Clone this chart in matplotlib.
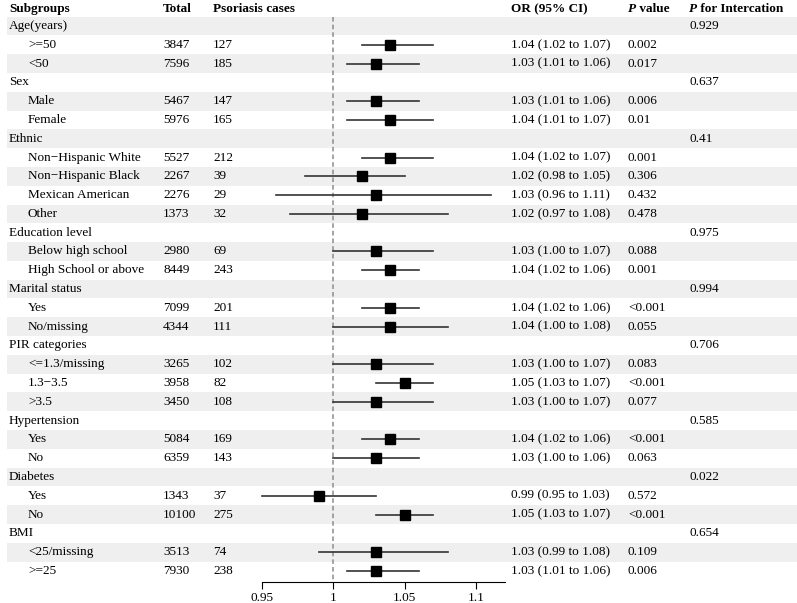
import matplotlib.pyplot as plt
import matplotlib.transforms as mtransforms
import numpy as np

plt.rcParams['font.family'] = ['Liberation Serif', 'DejaVu Serif']

# %% data
subgroups = ["Age(years)", ">=50", "<50",
             "Sex", "Male", "Female",
             "Ethnic", "Non\u2212Hispanic White", "Non\u2212Hispanic Black", "Mexican American", "Other",
             "Education level", "Below high school", "High School or above",
             "Marital status", "Yes", "No/missing",
             "PIR categories", "<=1.3/missing", "1.3\u22123.5", ">3.5",
             "Hypertension", "Yes", "No",
             "Diabetes", "Yes", "No",
             "BMI", "<25/missing", ">=25"]
totals = ["", "3847", "7596",
          "", "5467", "5976",
          "", "5527", "2267", "2276", "1373",
          "", "2980", "8449",
          "", "7099", "4344",
          "", "3265", "3958", "3450",
          "", "5084", "6359",
          "", "1343", "10100",
          "", "3513", "7930"]
cases = ["", "127", "185",
         "", "147", "165",
         "", "212", "39", "29", "32",
         "", "69", "243",
         "", "201", "111",
         "", "102", "82", "108",
         "", "169", "143",
         "", "37", "275",
         "", "74", "238"]
nan = np.nan
odds = [nan, 1.04, 1.03,
        nan, 1.03, 1.04,
        nan, 1.04, 1.02, 1.03, 1.02,
        nan, 1.03, 1.04,
        nan, 1.04, 1.04,
        nan, 1.03, 1.05, 1.03,
        nan, 1.04, 1.03,
        nan, 0.99, 1.05,
        nan, 1.03, 1.03]
ci_low = [nan, 1.02, 1.01,
          nan, 1.01, 1.01,
          nan, 1.02, 0.98, 0.96, 0.97,
          nan, 1.00, 1.02,
          nan, 1.02, 1.00,
          nan, 1.00, 1.03, 1.00,
          nan, 1.02, 1.00,
          nan, 0.95, 1.03,
          nan, 0.99, 1.01]
ci_high = [nan, 1.07, 1.06,
           nan, 1.06, 1.07,
           nan, 1.07, 1.05, 1.11, 1.08,
           nan, 1.07, 1.06,
           nan, 1.06, 1.08,
           nan, 1.07, 1.07, 1.07,
           nan, 1.06, 1.06,
           nan, 1.03, 1.07,
           nan, 1.08, 1.06]
p_values = ["", "0.002", "0.017",
            "", "0.006", "0.01",
            "", "0.001", "0.306", "0.432", "0.478",
            "", "0.088", "0.001",
            "", "<0.001", "0.055",
            "", "0.083", "<0.001", "0.077",
            "", "<0.001", "0.063",
            "", "0.572", "<0.001",
            "", "0.109", "0.006"]
p_interaction = ["0.929", "", "",
                 "0.637", "", "",
                 "0.41", "", "", "", "",
                 "0.975", "", "",
                 "0.994", "", "",
                 "0.706", "", "", "",
                 "0.585", "", "",
                 "0.022", "", "",
                 "0.654", "", ""]
ticks = [0.95, 1, 1.05, 1.1]
tick_labels = ["0.95", "1", "1.05", "1.1"]

# %% layout
W, H = 797, 603
fig = plt.figure(figsize=(W / 100, H / 100), dpi=100)
ax = fig.add_axes([0, 21 / H, 1, 582 / H])

n = len(subgroups)
row_px = 18.79
y_bottom = (582 - 26) / row_px
y_top = -26 / row_px
ax.set_ylim(y_bottom, y_top)
px_unit = 1430.0
ax.set_xlim(0.95 - 261.7 / px_unit, 0.95 + (W - 261.7) / px_unit)

tr = mtransforms.blended_transform_factory(ax.transAxes, ax.transData)
fs = 9.5
col = {"sub": 9, "item": 28, "total": 163, "cases": 213, "or": 511, "p": 628, "pint": 689}
cx = {k: v / W for k, v in col.items()}

# stripes
for i in range(n):
    if i % 2 == 0:
        ax.axhspan(i - 0.5, i + 0.5, xmin=7 / W, xmax=1, color="#efefef", lw=0, zorder=0)

# reference line
ax.vlines(1.0, -0.5, y_bottom, colors="#8c8c8c", linestyles=(0, (3, 2)), lw=1.1, zorder=1)

# rows
for i in range(n):
    is_group = totals[i] == ""
    ax.text(cx["sub"] if is_group else cx["item"], i, subgroups[i], transform=tr,
            ha="left", va="center", fontsize=fs)
    ax.text(cx["total"], i, totals[i], transform=tr, ha="left", va="center", fontsize=fs)
    ax.text(cx["cases"], i, cases[i], transform=tr, ha="left", va="center", fontsize=fs)
    if not is_group:
        ax.plot([ci_low[i], ci_high[i]], [i, i], color="#333333", lw=1.2, zorder=2)
        ax.plot(odds[i], i, marker="s", ms=7.5, color="black", zorder=3)
        ax.text(cx["or"], i, f"{odds[i]:.2f} ({ci_low[i]:.2f} to {ci_high[i]:.2f})",
                transform=tr, ha="left", va="center", fontsize=fs)
    ax.text(cx["p"], i, p_values[i], transform=tr, ha="left", va="center", fontsize=fs)
    ax.text(cx["pint"], i, p_interaction[i], transform=tr, ha="left", va="center", fontsize=fs)

# header
yh = (9 - 26) / row_px
for key, label in [("sub", "Subgroups"), ("total", "Total"), ("cases", "Psoriasis cases"),
                   ("or", "OR (95% CI)")]:
    ax.text(cx[key], yh, label, transform=tr, ha="left", va="center", fontsize=fs, fontweight="bold")
for key, rest in [("p", " value"), ("pint", " for Intercation")]:
    t = ax.text(cx[key], yh, "P", transform=tr, ha="left", va="center", fontsize=fs,
                fontweight="bold", fontstyle="italic")
    ax.annotate(rest, xy=(1, 0), xycoords=t, ha="left", va="bottom", fontsize=fs, fontweight="bold")

# axis
for s in ["top", "left", "right"]:
    ax.spines[s].set_visible(False)
ax.spines["bottom"].set_bounds(0.95, 1.12)
ax.spines["bottom"].set_linewidth(0.8)
ax.set_xticks(ticks)
ax.set_xticklabels(tick_labels, fontsize=fs)
ax.tick_params(axis="x", length=5, width=0.8, pad=2.5)
ax.set_yticks([])
ax.patch.set_visible(False)

fig.savefig("out.png", dpi=100)
